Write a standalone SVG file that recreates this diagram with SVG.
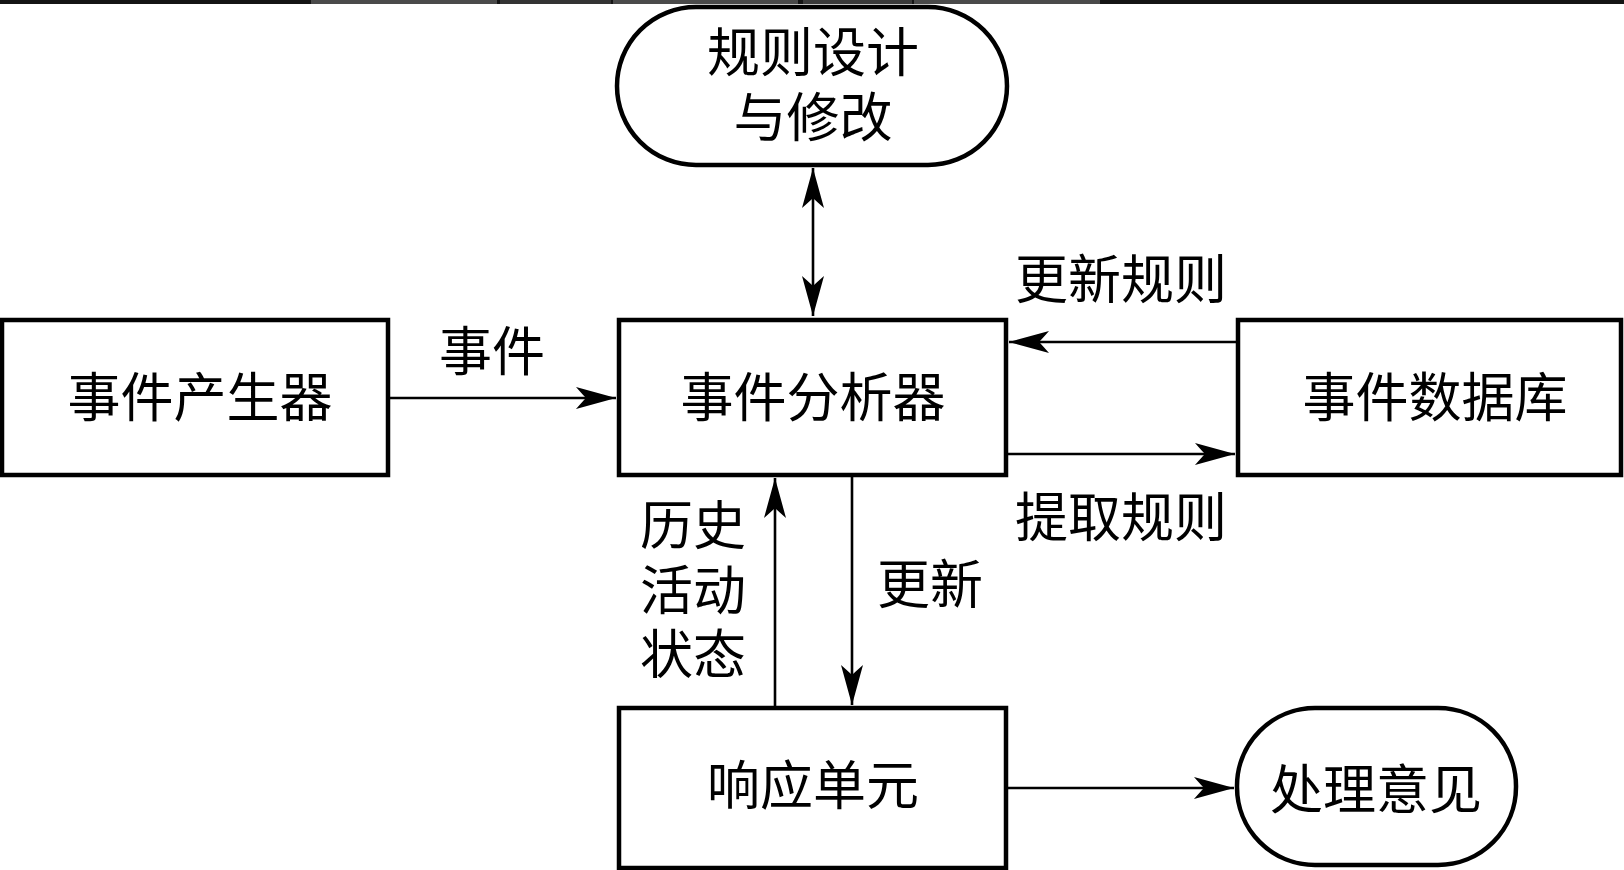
<svg xmlns="http://www.w3.org/2000/svg" width="1624" height="870" viewBox="0 0 1624 870">
<style>
.box{fill:#fff;stroke:#000;stroke-width:4.5}
.t{font-family:"Liberation Serif","Noto Sans CJK SC",serif;font-size:53px;fill:#000;text-anchor:middle;dominant-baseline:central}
.c{stroke:#000;stroke-width:2.6;fill:none}
</style>
<defs>
<marker id="ah" markerUnits="userSpaceOnUse" markerWidth="44" markerHeight="26" viewBox="-42 -13 44 26" refX="0" refY="0" orient="auto-start-reverse">
<path d="M0,0 L-40,-11 Q-33,-3 -30,0 Q-33,3 -40,11 Z" fill="#000"/>
</marker>
</defs>
<rect x="0" y="0" width="1624" height="4" fill="#141414"/>
<rect x="311" y="0" width="186" height="4" fill="#4a4a4a"/>
<rect x="500" y="0" width="111" height="4" fill="#333"/>
<rect x="613" y="0" width="185" height="4" fill="#4a4a4a"/>
<rect x="803" y="0" width="109" height="4" fill="#3a3a3a"/>
<rect x="914" y="0" width="186" height="4" fill="#4a4a4a"/>

<g id="connectors">
<line class="c" x1="813" y1="168" x2="813" y2="316" marker-start="url(#ah)" marker-end="url(#ah)"/>
<line class="c" x1="390" y1="398" x2="616" y2="398" marker-end="url(#ah)"/>
<line class="c" x1="1236" y1="342" x2="1009" y2="342" marker-end="url(#ah)"/>
<line class="c" x1="1008" y1="454" x2="1235" y2="454" marker-end="url(#ah)"/>
<line class="c" x1="775" y1="706" x2="775" y2="478" marker-end="url(#ah)"/>
<line class="c" x1="852" y1="477" x2="852" y2="705" marker-end="url(#ah)"/>
<line class="c" x1="1008" y1="788" x2="1234" y2="788" marker-end="url(#ah)"/>
<text class="t" x="492" y="353">事件</text>
<text class="t" x="1121" y="281">更新规则</text>
<text class="t" x="1121" y="519">提取规则</text>
<text class="t" x="693" y="527">历史</text>
<text class="t" x="693" y="592">活动</text>
<text class="t" x="693" y="656">状态</text>
<text class="t" x="930" y="586">更新</text>
</g>

<g id="rule-design">
<rect class="box" x="617" y="7" width="390" height="158" rx="79" ry="79"/>
<text class="t" x="813" y="54">规则设计</text>
<text class="t" x="813" y="119">与修改</text>
</g>
<g id="event-generator">
<rect class="box" x="2" y="320" width="386" height="155"/>
<text class="t" x="200" y="399">事件产生器</text>
</g>
<g id="event-analyzer">
<rect class="box" x="619" y="320" width="387" height="155"/>
<text class="t" x="813" y="399">事件分析器</text>
</g>
<g id="event-database">
<rect class="box" x="1238" y="320" width="383" height="155"/>
<text class="t" x="1435" y="399">事件数据库</text>
</g>
<g id="response-unit">
<rect class="box" x="619" y="708" width="387" height="160"/>
<text class="t" x="813" y="787">响应单元</text>
</g>
<g id="handling-opinion">
<rect class="box" x="1237" y="708" width="279" height="157" rx="78" ry="78"/>
<text class="t" x="1376" y="791">处理意见</text>
</g>
</svg>
